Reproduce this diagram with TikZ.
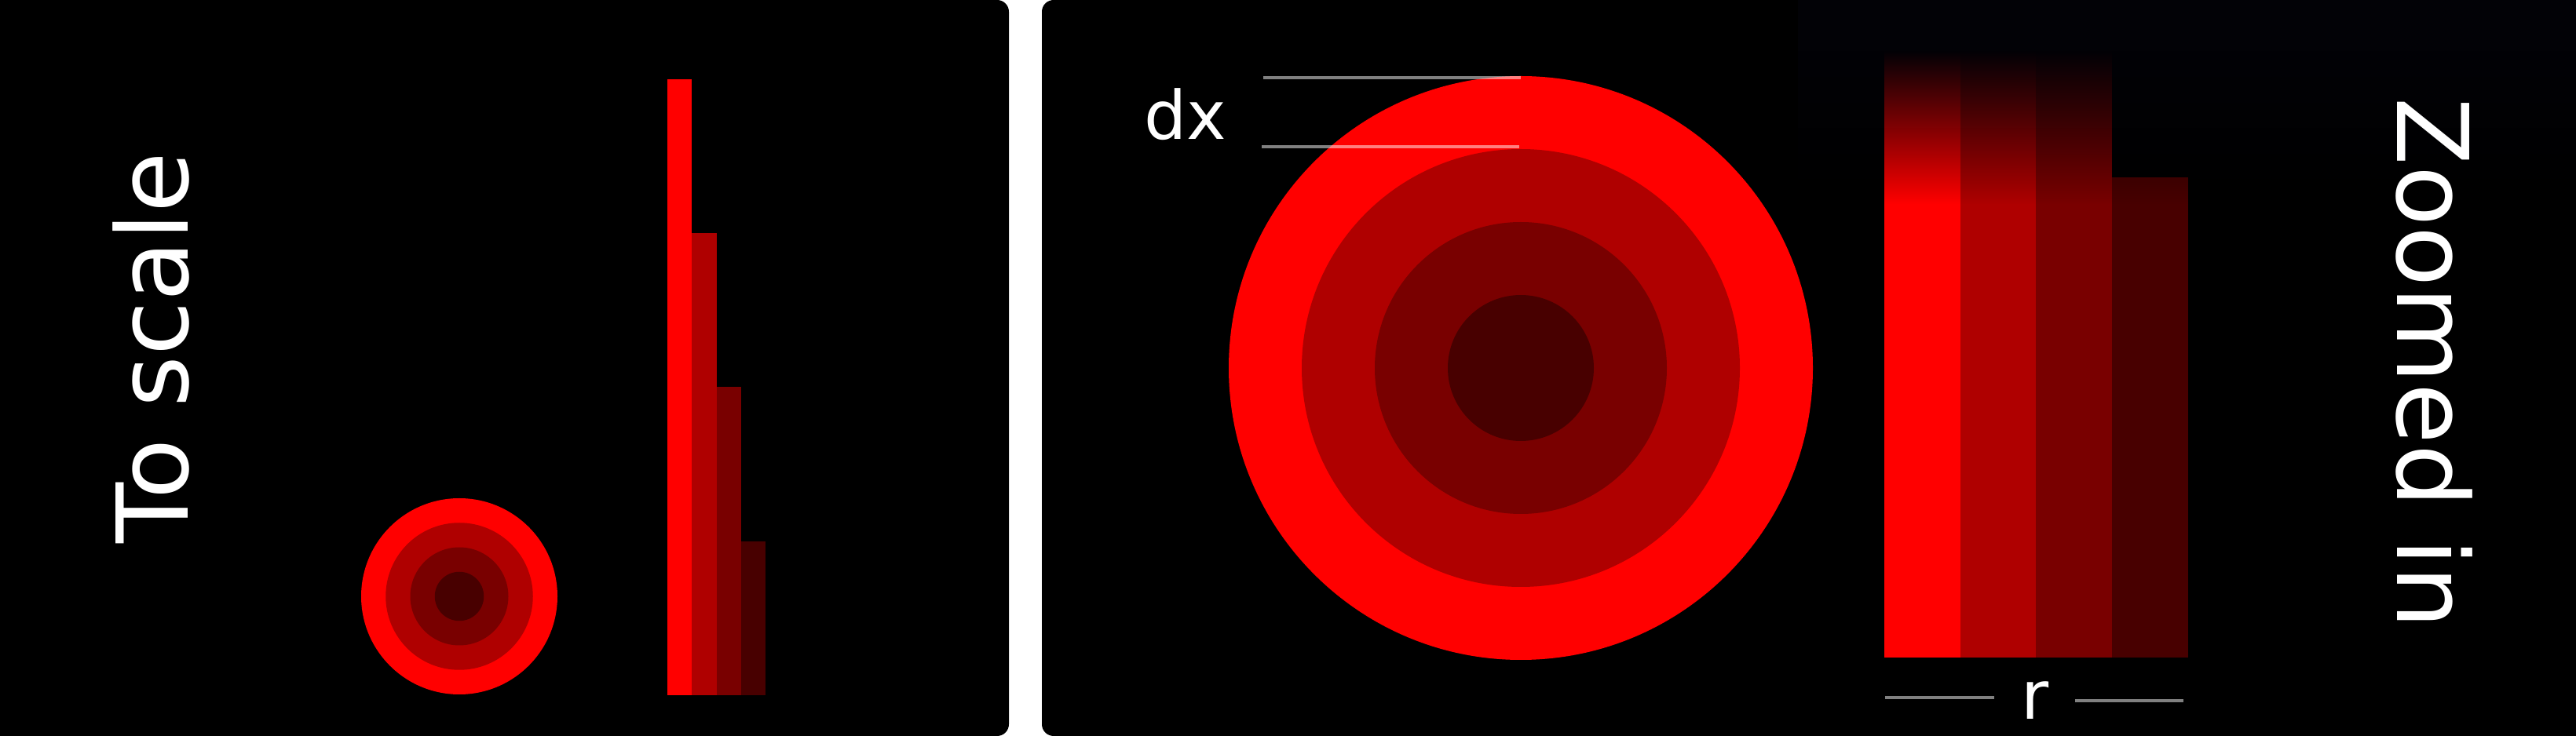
\documentclass[tikz,border=0pt]{standalone}
\usepackage{fontspec}
\setmainfont{DejaVu Sans}
\usepackage{xcolor}
\usepackage{tikz}
\usetikzlibrary{fadings}
\definecolor{ringred}{HTML}{FF0000}
\definecolor{ringmid}{HTML}{AF0000}
\definecolor{ringdeep}{HTML}{790000}
\definecolor{ringcore}{HTML}{480000}
\definecolor{fadeink}{HTML}{020206}
\tikzfading[name=fadeup, top color=transparent!0, bottom color=transparent!100]

\begin{document}
\begin{tikzpicture}[x=1cm,y=1cm,
  ttl/.style={font=\fontsize{35.9}{43}\selectfont,text=white,anchor=base,inner sep=0pt},
  dimlbl/.style={font=\fontsize{24.3}{29}\selectfont,text=white,anchor=base,inner sep=0pt},
  dimrule/.style={white,opacity=0.5,line width=1.3pt}]
\useasboundingbox (0,0) rectangle (32.81,9.38);
\fill[white] (0,0) rectangle (32.81,9.38);
\fill[black,rounded corners=0.15cm] (-0.5,0) rectangle (12.85,9.38);
\fill[black,rounded corners=0.15cm] (13.27,0) rectangle (33.3,9.38);
% to scale
\fill[ringred] (5.85,1.78) circle (1.25);
\fill[ringmid] (5.85,1.78) circle (0.9375);
\fill[ringdeep] (5.85,1.78) circle (0.625);
\fill[ringcore] (5.85,1.78) circle (0.3125);
\fill[ringred] (8.50,0.52) rectangle (8.8125,8.374);
\fill[ringmid] (8.8125,0.52) rectangle (9.125,6.41);
\fill[ringdeep] (9.125,0.52) rectangle (9.4375,4.447);
\fill[ringcore] (9.4375,0.52) rectangle (9.75,2.483);
\node[ttl,rotate=90] (scalelbl) at (2.39,4.95) {To scale};
% zoomed in
\fill[ringred] (19.37,4.69) circle (3.72);
\fill[ringmid] (19.37,4.69) circle (2.79);
\fill[ringdeep] (19.37,4.69) circle (1.86);
\fill[ringcore] (19.37,4.69) circle (0.93);
\fill[ringred] (24.00,1.00) rectangle (24.97,9.38);
\fill[ringmid] (24.97,1.00) rectangle (25.93,9.38);
\fill[ringdeep] (25.93,1.00) rectangle (26.90,9.38);
\fill[ringcore] (26.90,1.00) rectangle (27.87,7.12);
\fill[fadeink] (22.90,8.73) rectangle (33.3,9.38);
\fill[fadeink,path fading=fadeup] (22.90,6.78) rectangle (33.3,8.73);
\coordinate (dxtopA) at (16.09,8.39);
\coordinate (dxtopB) at (19.37,8.39);
\coordinate (dxbotA) at (16.07,7.51);
\coordinate (dxbotB) at (19.35,7.51);
\draw[dimrule] (dxtopA) -- (dxtopB);
\draw[dimrule] (dxbotA) -- (dxbotB);
\node[dimlbl] (dxlbl) at (15.10,7.60) {dx};
\coordinate (rruleA) at (24.01,0.49);
\coordinate (rruleB) at (25.40,0.49);
\coordinate (rruleC) at (26.43,0.45);
\coordinate (rruleD) at (27.81,0.45);
\draw[dimrule] (rruleA) -- (rruleB);
\draw[dimrule] (rruleC) -- (rruleD);
\node[dimlbl] (rlbl) at (25.92,0.21) {r};
\node[ttl,rotate=-90] (zoomlbl) at (30.53,4.75) {Zoomed in};
\end{tikzpicture}
\end{document}
